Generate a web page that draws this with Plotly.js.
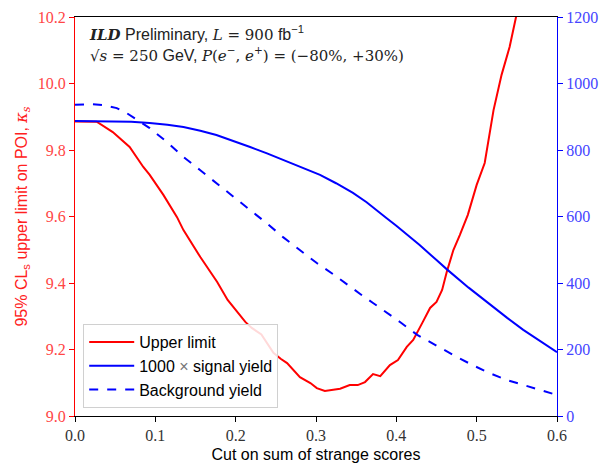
<!DOCTYPE html>
<html>
<head>
<meta charset="utf-8">
<script src="https://cdn.plot.ly/plotly-3.0.1.min.js"></script>
<style>html,body{margin:0;padding:0;background:#fff;}#chart{width:602px;height:463px;}</style>
</head>
<body>
<div id="chart"></div>
<script>
// Upper limit (left axis)
const cutLimit = [0, 0.027, 0.047, 0.068, 0.085, 0.093, 0.11, 0.127, 0.135, 0.156, 0.177, 0.19, 0.212, 0.22, 0.232, 0.247, 0.256, 0.264, 0.28, 0.293, 0.301, 0.311, 0.33, 0.342, 0.352, 0.361, 0.371, 0.38, 0.392, 0.402, 0.413, 0.421, 0.433, 0.442, 0.45, 0.457, 0.463, 0.471, 0.479, 0.489, 0.5, 0.51, 0.521, 0.531, 0.541, 0.549, 0.56];
const upperLimit = [9.886, 9.885, 9.854, 9.809, 9.749, 9.725, 9.665, 9.598, 9.559, 9.478, 9.403, 9.349, 9.283, 9.265, 9.245, 9.19, 9.172, 9.159, 9.117, 9.099, 9.084, 9.075, 9.082, 9.093, 9.093, 9.102, 9.126, 9.12, 9.153, 9.168, 9.208, 9.229, 9.283, 9.325, 9.343, 9.379, 9.435, 9.499, 9.544, 9.605, 9.695, 9.761, 9.92, 10.026, 10.11, 10.2, 10.35];

// Signal yield x1000 (right axis)
const cutSignal = [0, 0.05, 0.07, 0.093, 0.115, 0.135, 0.156, 0.176, 0.197, 0.218, 0.239, 0.259, 0.28, 0.305, 0.325, 0.346, 0.363, 0.375, 0.388, 0.4, 0.413, 0.429, 0.45, 0.463, 0.49, 0.517, 0.538, 0.558, 0.58, 0.6];
const signalYield = [887, 887, 885, 881, 876, 869, 858, 845, 828, 809, 790, 770, 748, 725, 700, 671, 643, 621, 595, 572, 546, 514, 469, 441, 386, 334, 295, 259, 225, 192];

// Background yield (right axis)
const cutBkg = [0, 0.02, 0.035, 0.052, 0.065, 0.077, 0.093, 0.115, 0.135, 0.156, 0.176, 0.197, 0.218, 0.239, 0.259, 0.28, 0.301, 0.321, 0.339, 0.355, 0.371, 0.39, 0.405, 0.426, 0.454, 0.475, 0.495, 0.515, 0.538, 0.57, 0.6];
const bkgYield = [936, 938, 935, 926, 910, 890, 866, 823, 779, 739, 701, 660, 620, 579, 538, 498, 460, 427, 394, 367, 340, 308, 282, 244, 205, 178, 153, 130, 108, 84, 63];

const xTickVals = [0, 0.1, 0.2, 0.3, 0.4, 0.5, 0.6];

const serif = 'Liberation Serif';
const sans = 'Liberation Sans';

const traces = [
  {x: cutLimit, y: upperLimit, mode: 'lines', name: 'Upper limit', line: {color: '#ff0000', width: 2}, yaxis: 'y'},
  {x: cutSignal, y: signalYield, mode: 'lines', name: '1000 <span style="color:#777">×</span> signal yield', line: {color: '#0000ff', width: 2}, yaxis: 'y2'},
  {x: cutBkg, y: bkgYield, mode: 'lines', name: 'Background yield', line: {color: '#0000ff', width: 2, dash: 'dash'}, yaxis: 'y2'}
];

const S = 'font-family:DejaVu Serif;font-size:15px';
const layout = {
  width: 602, height: 463,
  margin: {l: 75, r: 45, t: 17, b: 47},
  paper_bgcolor: '#fff', plot_bgcolor: '#fff',
  showlegend: true,
  font: {family: serif, size: 16, color: '#333'},
  xaxis: {
    range: [0, 0.6], tickvals: xTickVals, tickformat: '.1f',
    showgrid: false, zeroline: false,
    showline: true, linecolor: '#000', linewidth: 1, mirror: true,
    ticks: 'outside', ticklen: 5, tickcolor: '#000',
    tickfont: {size: 16, color: '#333'},
    title: {text: 'Cut on sum of strange scores', font: {family: sans, size: 16, color: '#000'}, standoff: 6}
  },
  yaxis: {
    range: [9.0, 10.2], dtick: 0.2, tick0: 9.0, tickformat: '.1f',
    showgrid: false, zeroline: false,
    showline: true, linecolor: '#ff0000', linewidth: 1,
    ticks: 'outside', ticklen: 5, tickcolor: '#ff0000',
    tickfont: {size: 16, color: '#ff4545'},
    title: {text: '95% CL<sub>s</sub> upper limit on POI, <span style="font-family:DejaVu Serif"><i>κ</i><sub><i>s</i></sub></span>', font: {family: sans, size: 16, color: '#ff2020'}, standoff: 6}
  },
  yaxis2: {
    range: [0, 1200], dtick: 200, tick0: 0,
    overlaying: 'y', side: 'right',
    showgrid: false, zeroline: false,
    showline: true, linecolor: '#0000ff', linewidth: 1,
    ticks: 'outside', ticklen: 5, tickcolor: '#0000ff',
    tickfont: {size: 16, color: '#4545ff'}
  },
  legend: {
    x: 0.017, y: 0.02, xanchor: 'left', yanchor: 'bottom',
    bgcolor: 'rgba(255,255,255,0.85)', bordercolor: '#d0d0d0', borderwidth: 1,
    font: {family: sans, size: 16, color: '#000'},
    itemwidth: 45,
    tracegroupgap: 0
  },
  annotations: [{
    xref: 'paper', yref: 'paper', x: 0.024, y: 0.99, xanchor: 'left', yanchor: 'top',
    align: 'left', showarrow: false,
    font: {family: sans, size: 16, color: '#222'},
    text: '<span style="' + S + '"><b><i>ILD</i></b></span> Preliminary, <span style="' + S + '"><i>L</i> = 900</span> fb<sup>−1</sup><br>' +
          '<span style="' + S + '">√<i>s</i> = 250</span> GeV, <span style="' + S + '"><i>P</i>(<i>e</i><sup>−</sup>, <i>e</i><sup>+</sup>) = (−80%, +30%)</span>'
  }]
};

Plotly.newPlot('chart', traces, layout, {displayModeBar: false, staticPlot: true});
</script>
</body>
</html>
